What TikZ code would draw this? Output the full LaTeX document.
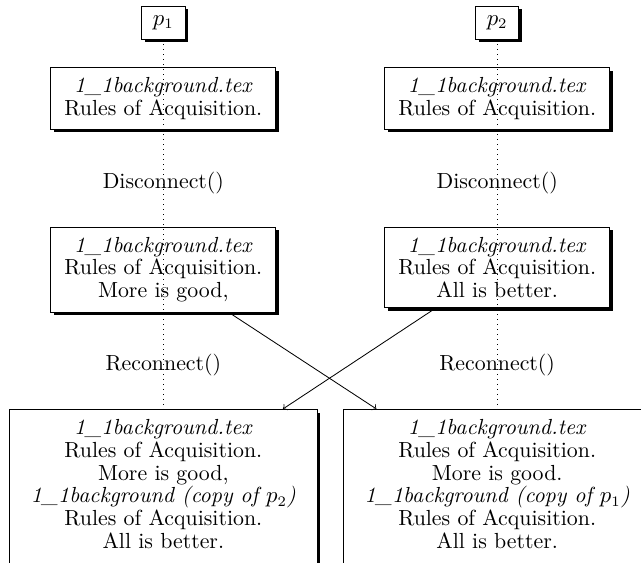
\documentclass[tikz,border=0pt]{standalone}
\usetikzlibrary{shadows}
\newcommand{\Wide}{3.80cm}
\newcommand{\Wider}{5.19cm}
\tikzset{Proc/.style={
    draw=black,
    fill=white,
    inner sep=3pt,
    minimum width=0.73cm,
    minimum height=0.56cm,
    drop shadow={shadow xshift=1.6pt, shadow yshift=-1.6pt, fill=black, opacity=1},
    },
  Doc/.style={
    draw=black,
    fill=white,
    align=center,
    anchor=north,
    inner xsep=3.3pt,
    inner ysep=4.7pt,
    minimum width=\Wide,
    drop shadow={shadow xshift=1.6pt, shadow yshift=-1.6pt, fill=black, opacity=1},
    }
}

\begin{document}
\begin{tikzpicture}[thin, font=\fontsize{10.5}{11}\selectfont,
    lane/.style={dotted},
    call/.style={inner sep=0pt},
]
\useasboundingbox (0,0) rectangle (10.83,-9.50);
% the two processes
\node [Proc] (p1) at (2.76,-0.38) {$p_1$};
\node [Proc] (p2) at (8.40,-0.38) {$p_2$};
% before disconnecting
\node [Doc] (a1) at (2.76,-1.13) {\textit{1\_1background.tex}\\ Rules of Acquisition.};
\node [Doc] (a2) at (8.40,-1.13) {\textit{1\_1background.tex}\\ Rules of Acquisition.};
\node [call] (d1) at (2.76,-3.09) {Disconnect()};
\node [call] (d2) at (8.40,-3.09) {Disconnect()};
% edited apart
\node [Doc] (m1) at (2.76,-3.83) {\textit{1\_1background.tex}\\ Rules of Acquisition.\\ More is good,};
\node [Doc] (m2) at (8.40,-3.83) {\textit{1\_1background.tex}\\ Rules of Acquisition.\\ All is better.};
\node [call] (r1) at (2.76,-6.17) {Reconnect()};
\node [call] (r2) at (8.40,-6.17) {Reconnect()};
% after reconnecting
\node [Doc, minimum width=\Wider, text depth=4pt] (b1) at (2.76,-6.91) {\textit{1\_1background.tex}\\ Rules of Acquisition.\\ More is good,\\
    \textit{1\_1background (copy of $p_2$)}\\ Rules of Acquisition.\\ All is better.};
\node [Doc, minimum width=\Wider, text depth=4pt] (b2) at (8.40,-6.91) {\textit{1\_1background.tex}\\ Rules of Acquisition.\\ More is good.\\
    \textit{1\_1background (copy of $p_1$)}\\ Rules of Acquisition.\\ All is better.};
% life lines
\draw [lane] (p1.south) -- (b1.north);
\draw [lane] (p2.south) -- (b2.north);
% merges
\draw [->] (m1) -- (b2);
\draw [->] (m2) -- (b1);
\end{tikzpicture}
\end{document}
